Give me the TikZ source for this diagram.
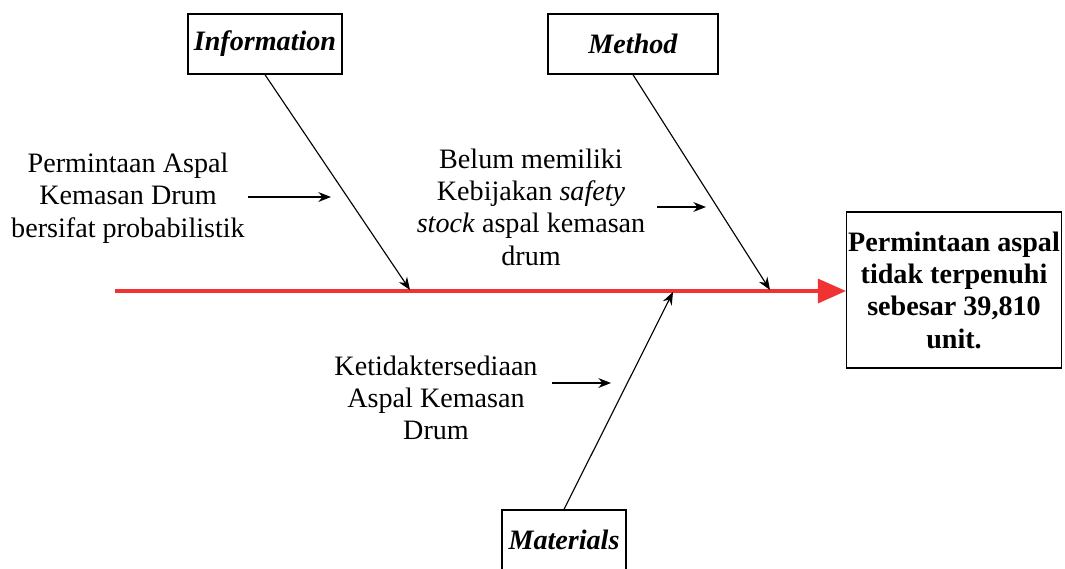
\documentclass[tikz,border=0pt]{standalone}
\usepackage{fontspec}
\setmainfont{Liberation Serif}
\usetikzlibrary{arrows.meta, positioning}

\begin{document}
\begin{tikzpicture}[x=0.025cm, y=-0.025cm,
		txt/.style={align=center, font=\fontsize{20}{23}\selectfont, inner sep=0pt},
		cat/.style={draw, line width=1pt, minimum height=1.5cm, inner sep=0pt, font=\fontsize{20}{23}\selectfont\bfseries\itshape},
		bone/.style={-{Stealth[length=9pt, width=7pt]}, line width=0.8pt},
		spine/.style={-{Triangle[length=20pt, width=17pt]}, line width=2.6pt, draw={rgb,255:red,240;green,50;blue,50}}]
	     \useasboundingbox (0,0) rectangle (1065,568);
	     % nodes %
		 \node[cat, minimum width=3.85cm] (info) at (265,44) {Information};
		 \node[cat, minimum width=4.25cm] (method) at (633,44) {Method};
		 \node[cat, minimum width=3.1cm] (materials) at (564,540) {Materials};
		 \node[draw, line width=1pt, minimum width=5.375cm, minimum height=3.9cm, align=center, inner sep=0pt, font=\fontsize{20}{23}\selectfont\bfseries] (effect) at (954,290) {Permintaan aspal\\tidak terpenuhi\\sebesar 39,810\\unit.};
		 \node[txt] (cause1) at (128,198) {Permintaan Aspal\\Kemasan Drum\\bersifat probabilistik};
		 \node[txt] (cause2) at (531,207) {Belum memiliki\\Kebijakan \textit{safety}\\\textit{stock} aspal kemasan\\drum};
		 \node[txt] (cause3) at (436,398) {Ketidaktersediaan\\Aspal Kemasan\\Drum};
		 %\node[txt] (cause4) at (800,400) {};
		 \coordinate (tail) at (115,291);
		 \coordinate (head) at (846,291);
		 \coordinate (infohit) at (410,290);
		 \coordinate (methodhit) at (770,290);
		 \coordinate (materialshit) at (673,292);
		 \coordinate (c1s) at (248,197);
		 \coordinate (c1e) at (331,197);
		 \coordinate (c2s) at (657,207);
		 \coordinate (c2e) at (706,207);
		 \coordinate (c3s) at (552,383);
		 \coordinate (c3e) at (611,383);

		 % edges %
		 \draw[spine] (tail) -- (head);
		 \draw[bone] (info.south) -- (infohit);
		 \draw[bone] (method.south) -- (methodhit);
		 \draw[bone] (materials.north) -- (materialshit);
		 \draw[bone] (c1s) -- (c1e);
		 \draw[bone] (c2s) -- (c2e);
		 \draw[bone] (c3s) -- (c3e);
	     \end{tikzpicture}
\end{document}
